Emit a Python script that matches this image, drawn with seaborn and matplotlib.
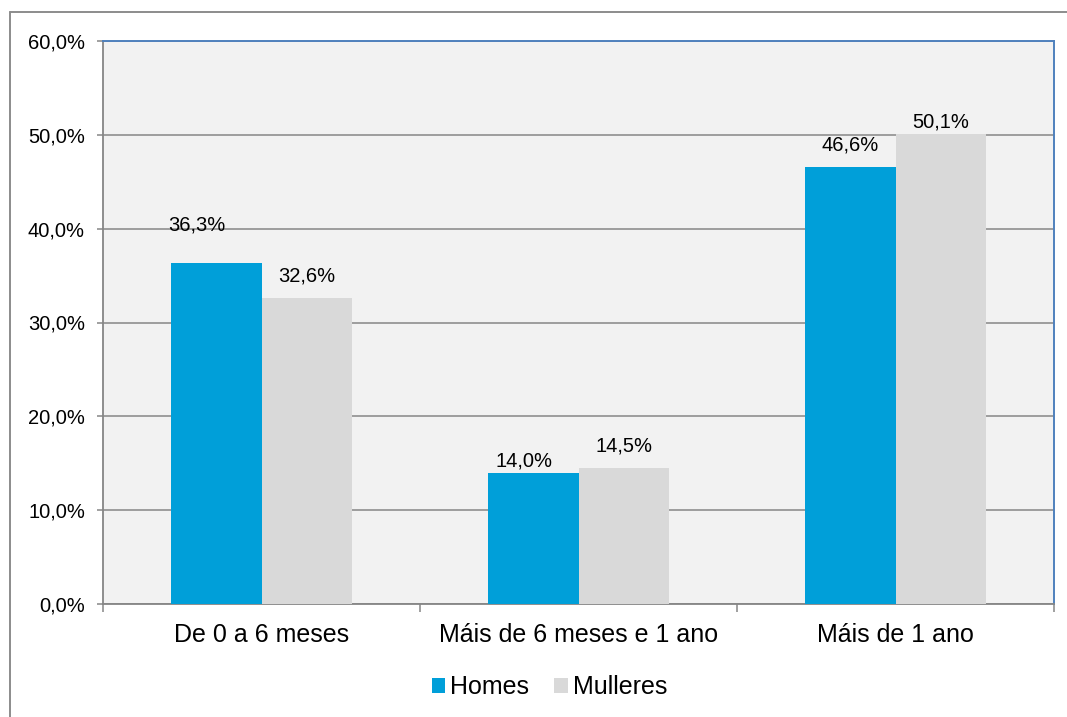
import numpy as np
import pandas as pd
import matplotlib.pyplot as plt
from matplotlib.lines import Line2D
from matplotlib.patches import Patch
import seaborn as sns

categories = ["De 0 a 6 meses", "Máis de 6 meses e 1 ano", "Máis de 1 ano"]
groups = ["Homes", "Mulleres"]
homes = [36.3, 14.0, 46.6]
mulleres = [32.6, 14.5, 50.1]
y_ticks = [0, 10, 20, 30, 40, 50, 60]

data_frame = pd.DataFrame({
    "categoria": categories * 2,
    "sexo": ["Homes"] * 3 + ["Mulleres"] * 3,
    "valor": homes + mulleres,
})

colors = {"Homes": "#009FD9", "Mulleres": "#D9D9D9"}

# label offsets in pixels (dx, dy) relative to bar top centre, as in the original
label_offsets = {
    "Homes": [(-19, 38), (-9, 12), (0, 22)],
    "Mulleres": [(0, 22), (0, 22), (0, 12)],
}

sns.set_style("white")
plt.rcParams["font.family"] = ["Liberation Sans", "DejaVu Sans"]
plt.rcParams["text.color"] = "black"
plt.rcParams["xtick.color"] = "black"
plt.rcParams["ytick.color"] = "black"

figure = plt.figure(figsize=(10.67, 7.17), dpi=100)
axis = figure.add_axes([103 / 1067, 1 - 604 / 717, (1054 - 103) / 1067, (604 - 41) / 717])
axis.set_facecolor("#F2F2F2")

sns.barplot(data=data_frame, x="categoria", y="valor", hue="sexo",
            order=categories, hue_order=groups, palette=colors,
            width=0.57, saturation=1, ax=axis, legend=False, zorder=3,
            linewidth=0, edgecolor="none")

axis.set_xlim(-0.5, 2.5)
axis.set_ylim(0, 60)
axis.set_yticks(y_ticks)
axis.set_yticklabels([f"{v:.1f}%".replace(".", ",") for v in y_ticks], fontsize=14.5)
axis.yaxis.grid(True, color="#868686", linewidth=1.1, zorder=1)
axis.set_axisbelow(True)
axis.tick_params(axis="y", length=4, width=1.1, color="#868686", labelcolor="black", pad=9, left=True)

axis.set_xticks(range(len(categories)))
axis.set_xticklabels(categories, fontsize=18)
axis.set_xticks([-0.5, 0.5, 1.5, 2.5], minor=True)
axis.tick_params(axis="x", which="major", length=0, pad=14, labelcolor="black")
axis.tick_params(axis="x", which="minor", length=6, width=1.1, color="#868686", bottom=True)
axis.set_xlabel("")
axis.set_ylabel("")

for side in ["left", "bottom"]:
    axis.spines[side].set_color("#868686")
    axis.spines[side].set_linewidth(1.3)
for side in ["top", "right"]:
    axis.spines[side].set_visible(True)
    axis.spines[side].set_color("#4F81BD")
    axis.spines[side].set_linewidth(1.4)

for container, group in zip(axis.containers, groups):
    for bar, (dx, dy) in zip(container, label_offsets[group]):
        height = bar.get_height()
        axis.annotate(f"{height:.1f}%".replace(".", ","),
                      (bar.get_x() + bar.get_width() / 2, height),
                      xytext=(dx, dy), textcoords="offset pixels",
                      ha="center", va="center", fontsize=14.5, color="black", zorder=5)

handles = [Patch(facecolor=colors[g], edgecolor="none") for g in groups]
figure.legend(handles, groups, loc="center", bbox_to_anchor=(0.515, 1 - 687 / 717),
              ncol=2, frameon=False, fontsize=18, handlelength=0.55, handleheight=0.55,
              handletextpad=0.2, columnspacing=1.0, labelcolor="black")

# outer chart frame (only top and left visible in the original)
x0 = 10 / 1067
y0 = 1 - 12 / 717
figure.add_artist(Line2D([x0, 1.0], [y0, y0], transform=figure.transFigure,
                         color="#8C8C8C", linewidth=1.4))
figure.add_artist(Line2D([x0, x0], [0.0, y0], transform=figure.transFigure,
                         color="#8C8C8C", linewidth=1.4))

figure.savefig("out.png", dpi=100)
